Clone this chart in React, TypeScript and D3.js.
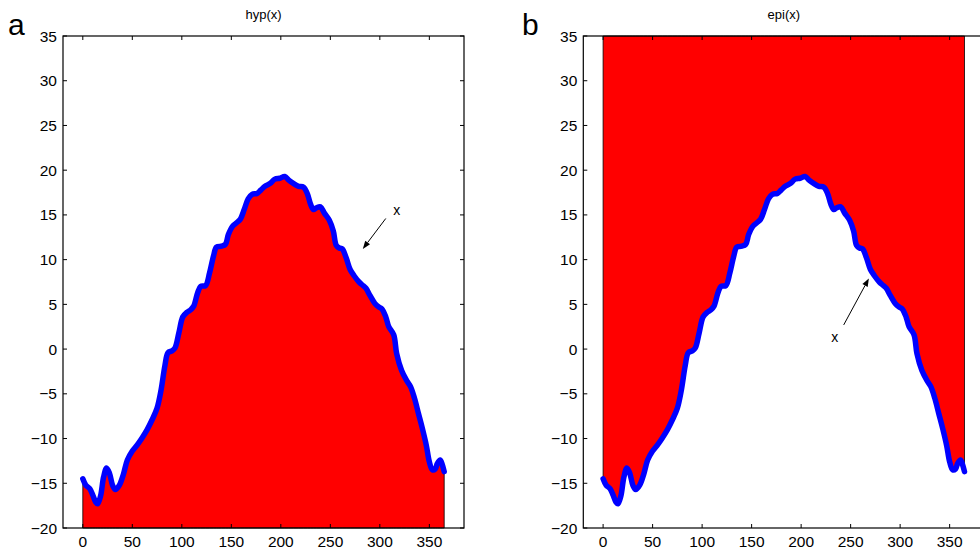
import React from "react";
import * as d3 from "d3";

const days = [0,3,7,10,13,15,18,21,24,27,30,33,37,41,45,50,55,60,65,70,75,79,83,86,90,93,97,101,105,109,112,116,119,124,128,132,135,140,144,147,151,155,159,163,167,171,176,180,184,189,194,199,204,208,213,218,223,227,230,233,236,240,244,249,253,256,259,262,266,270,274,279,283,286,290,295,299,302,306,309,314,317,322,327,331,335,339,343,347,350,353,356,358,361,363,365];
const values = [-14.5,-15.2,-15.6,-16.3,-17.1,-17.3,-16.4,-14.3,-13.3,-13.9,-15.2,-15.7,-15.2,-14.0,-12.4,-11.4,-10.7,-9.9,-9.0,-7.9,-6.6,-4.6,-1.8,-0.4,-0.2,0.1,1.8,3.6,4.1,4.4,4.8,6.3,7.0,7.1,8.5,10.4,11.4,11.5,11.7,12.8,13.7,14.1,14.5,15.6,16.8,17.3,17.4,17.8,18.2,18.5,19.0,19.1,19.3,18.9,18.5,18.2,18.1,17.3,16.2,15.6,15.8,15.9,15.2,14.4,13.2,11.6,11.3,11.2,10.2,8.9,8.2,7.5,7.1,6.8,6.0,5.1,4.7,4.5,3.6,2.5,1.6,-0.5,-2.4,-3.5,-4.2,-5.5,-7.2,-8.9,-10.8,-12.6,-13.5,-13.4,-12.8,-12.4,-12.9,-13.7];

const xTicks = [0,50,100,150,200,250,300,350];
const yTicks = [-20,-15,-10,-5,0,5,10,15,20,25,30,35];
const xDomain = [-20, 385];
const yDomain = [-20, 35];

const panels = [
  { letter: "a", title: "hyp(x)", fillAbove: false, label: { tx: 317, ty: 15.5, x1: 306, y1: 14.6, x2: 282.8, y2: 11.2 } },
  { letter: "b", title: "epi(x)", fillAbove: true, label: { tx: 234, ty: 1.3, x1: 243, y1: 2.7, x2: 268.4, y2: 7.9 } },
];

const W = 980, H = 551;
const panelLeft = [63, 583.3];
const letterX = [8, 522];
const panelW = 401;
const top = 36, bottom = 528;
const fmt = (v: number) => (v < 0 ? "\u2212" + Math.abs(v) : String(v));

function Panel({ idx }: { idx: number }) {
  const p = panels[idx];
  const left = panelLeft[idx];
  const x = d3.scaleLinear().domain(xDomain).range([left, left + panelW]);
  const y = d3.scaleLinear().domain(yDomain).range([bottom, top]);
  const data = days.map((d, i) => [d, values[i]] as [number, number]);
  const curve = d3.curveCatmullRom.alpha(0.5);
  const area = d3.area<[number, number]>()
    .x(d => x(d[0]))
    .y0(y(p.fillAbove ? 35 : -20))
    .y1(d => y(d[1]))
    .curve(curve);
  const line = d3.line<[number, number]>().x(d => x(d[0])).y(d => y(d[1])).curve(curve);
  const L = p.label;
  const ax1 = x(L.x1), ay1 = y(L.y1), ax2 = x(L.x2), ay2 = y(L.y2);
  const ang = Math.atan2(ay2 - ay1, ax2 - ax1);
  const hl = 8, hw = 3;
  const bx = ax2 - hl * Math.cos(ang), by = ay2 - hl * Math.sin(ang);
  const head = `${ax2},${ay2} ${bx + hw * Math.sin(ang)},${by - hw * Math.cos(ang)} ${bx - hw * Math.sin(ang)},${by + hw * Math.cos(ang)}`;
  const tl = 4;
  const font = "Liberation Sans, Arial, Helvetica, sans-serif";
  return (
    <g>
      <path d={area(data) || ""} fill="#ff0000" stroke="#000" strokeWidth={0.8} />
      <path d={line(data) || ""} fill="none" stroke="#0000ff" strokeWidth={5.5} strokeLinejoin="round" strokeLinecap="round" />
      {xTicks.map(t => (
        <g key={"x" + t}>
          <line x1={x(t)} x2={x(t)} y1={bottom} y2={bottom - tl} stroke="#000" strokeWidth={1} />
          <line x1={x(t)} x2={x(t)} y1={top} y2={top + tl} stroke="#000" strokeWidth={1} />
          <text x={x(t)} y={547} textAnchor="middle" fontSize={15.5} fontFamily={font}>{fmt(t)}</text>
        </g>
      ))}
      {yTicks.map(t => (
        <g key={"y" + t}>
          <line x1={left} x2={left + tl} y1={y(t)} y2={y(t)} stroke="#000" strokeWidth={1} />
          <line x1={left + panelW} x2={left + panelW - tl} y1={y(t)} y2={y(t)} stroke="#000" strokeWidth={1} />
          <text x={left - 6} y={y(t) + 5.5} textAnchor="end" fontSize={15.5} fontFamily={font}>{fmt(t)}</text>
        </g>
      ))}
      <rect x={left} y={top} width={panelW} height={bottom - top} fill="none" stroke="#000" strokeWidth={1.2} />
      <text x={left + panelW / 2} y={19} textAnchor="middle" fontSize={13} fontFamily={font}>{p.title}</text>
      <text x={letterX[idx]} y={35} fontSize={30} fontFamily={font}>{p.letter}</text>
      <line x1={ax1} y1={ay1} x2={bx} y2={by} stroke="#000" strokeWidth={1} />
      <polygon points={head} fill="#000" />
      <text x={x(L.tx)} y={y(L.ty) + 5} textAnchor="middle" fontSize={14} fontFamily={font}>x</text>
    </g>
  );
}

export default function App() {
  return (
    <svg width={W} height={H} style={{ position: "absolute", left: 0, top: 0, background: "#fff" }}>
      <rect x={0} y={0} width={W} height={H} fill="#fff" />
      <Panel idx={0} />
      <Panel idx={1} />
    </svg>
  );
}
